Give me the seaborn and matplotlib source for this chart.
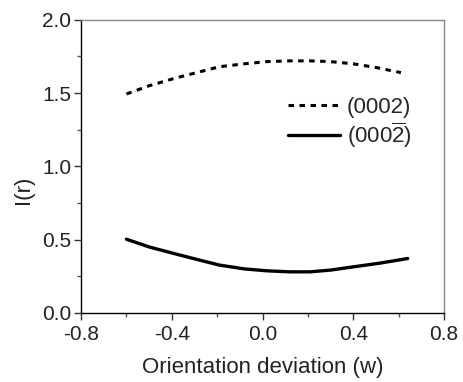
import matplotlib
matplotlib.use("Agg")
import matplotlib.pyplot as plt
import seaborn as sns
import pandas as pd
from matplotlib.ticker import MultipleLocator
from matplotlib.lines import Line2D

sns.set_style("white")
plt.rcParams['font.family'] = ['Liberation Sans', 'DejaVu Sans']
plt.rcParams['mathtext.fontset'] = 'custom'
plt.rcParams['mathtext.rm'] = 'Liberation Sans'

# Data
w_0002 = [-0.60, -0.50, -0.39, -0.29, -0.19, -0.08, 0.02, 0.12, 0.21, 0.30, 0.40, 0.50, 0.61]
i_0002 = [1.494, 1.55, 1.60, 1.64, 1.68, 1.70, 1.715, 1.72, 1.72, 1.715, 1.70, 1.675, 1.64]
w_000b2 = [-0.60, -0.50, -0.39, -0.29, -0.19, -0.08, 0.02, 0.12, 0.21, 0.30, 0.40, 0.52, 0.64]
i_000b2 = [0.503, 0.45, 0.405, 0.365, 0.326, 0.30, 0.287, 0.28, 0.28, 0.292, 0.314, 0.34, 0.371]
labels = ["(0002)", r"$\mathregular{(000\overline{2})}$"]

df = pd.concat([
    pd.DataFrame({"w": w_0002, "I": i_0002, "s": labels[0]}),
    pd.DataFrame({"w": w_000b2, "I": i_000b2, "s": labels[1]}),
])

fig = plt.figure(figsize=(4.63, 3.82), dpi=100)
ax = fig.add_axes([0.175, 0.181, 0.784, 0.767])

sns.lineplot(data=df, x="w", y="I", hue="s", style="s",
             palette=["black", "black"], dashes=[(1.8, 1.8), ""],
             ax=ax, legend=False)
lines = ax.get_lines()
lines[0].set_linewidth(2.2)
lines[1].set_linewidth(2.4)

ax.set_xlim(-0.8, 0.8)
ax.set_ylim(0.0, 2.0)
ax.xaxis.set_major_locator(MultipleLocator(0.4))
ax.xaxis.set_minor_locator(MultipleLocator(0.2))
ax.yaxis.set_major_locator(MultipleLocator(0.5))
ax.yaxis.set_minor_locator(MultipleLocator(0.25))
ax.set_xticklabels([f"{v:.1f}" for v in ax.get_xticks()])
ax.set_yticklabels([f"{v:.1f}" for v in ax.get_yticks()])
ax.tick_params(axis='both', which='major', direction='out', length=5, width=1,
               labelsize=15, colors='#333333', labelcolor='#222222',
               bottom=True, left=True)
ax.tick_params(axis='x', which='major', pad=4)
ax.tick_params(axis='y', which='major', pad=2)
ax.tick_params(axis='both', which='minor', direction='out', length=3, width=1,
               colors='#555555', bottom=True, left=True)

for side in ['left', 'bottom']:
    ax.spines[side].set_color('black')
    ax.spines[side].set_linewidth(1.0)
for side in ['top', 'right']:
    ax.spines[side].set_color('#888888')
    ax.spines[side].set_linewidth(1.0)

ax.set_xlabel("Orientation deviation (w)", fontsize=16, color='#222222', labelpad=9)
ax.set_ylabel("I(r)", fontsize=16, color='#222222')
ax.yaxis.set_label_coords(-0.13, 0.42)

handles = [Line2D([], [], color='black', lw=2.2, dashes=(1.8, 1.8)),
           Line2D([], [], color='black', lw=2.4)]
ax.legend(handles, labels, frameon=False, fontsize=16, loc='upper left',
          bbox_to_anchor=(0.57, 0.738), handlelength=2.35, handletextpad=0.3,
          labelspacing=0.12, borderpad=0, borderaxespad=0)

fig.savefig("out.png", dpi=100)
